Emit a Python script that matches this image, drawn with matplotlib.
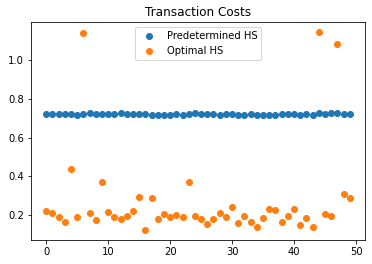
import numpy as np
import matplotlib.pyplot as plt

# Cost per transaction
predetermined_hs = [0.722, 0.722, 0.722, 0.722, 0.722, 0.717, 0.722, 0.727, 0.722, 0.722,
                    0.722, 0.722, 0.727, 0.722, 0.722, 0.722, 0.722, 0.717, 0.717, 0.717,
                    0.717, 0.722, 0.717, 0.722, 0.727, 0.722, 0.722, 0.722, 0.717, 0.722,
                    0.722, 0.717, 0.717, 0.722, 0.717, 0.717, 0.717, 0.717, 0.722, 0.722,
                    0.722, 0.717, 0.722, 0.717, 0.727, 0.722, 0.727, 0.727, 0.722, 0.722]
optimal_hs = [0.221, 0.209, 0.188, 0.162, 0.439, 0.188, 1.142, 0.209, 0.173, 0.370,
              0.214, 0.188, 0.178, 0.193, 0.219, 0.292, 0.121, 0.287, 0.178, 0.204,
              0.188, 0.199, 0.188, 0.370, 0.193, 0.178, 0.152, 0.178, 0.209, 0.188,
              0.240, 0.157, 0.193, 0.162, 0.136, 0.183, 0.230, 0.225, 0.162, 0.193,
              0.230, 0.147, 0.183, 0.136, 1.147, 0.204, 0.193, 1.085, 0.307, 0.287]
transactions = np.arange(len(optimal_hs))

fig = plt.figure(figsize=(372 / 72, 264 / 72), dpi=72)
ax = fig.add_axes([31 / 372, 1 - 240 / 264, 334 / 372, 218 / 264])

ax.scatter(transactions, predetermined_hs, label='Predetermined HS')
ax.scatter(transactions, optimal_hs, label='Optimal HS')
ax.set_title('Transaction Costs')
ax.legend(loc='upper center')

fig.savefig('out.png', dpi=72)
